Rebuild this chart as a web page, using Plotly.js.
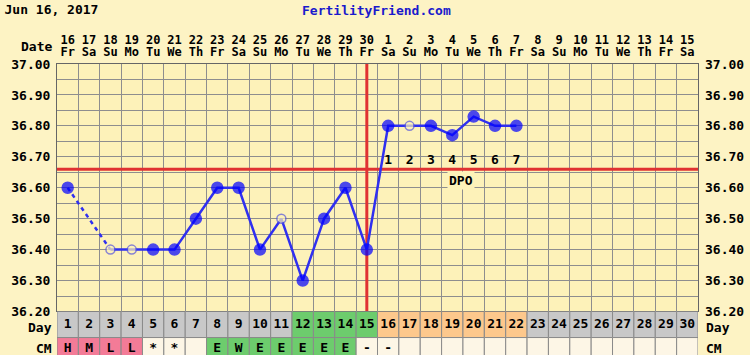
<!DOCTYPE html>
<html>
<head>
<meta charset="utf-8">
<script src="https://cdn.plot.ly/plotly-3.0.1.min.js"></script>
<style>html,body{margin:0;padding:0;background:#fdf3c4;}#chart{width:750px;height:355px;}</style>
</head>
<body>
<div id="chart"></div>
<script>
// ---- data ----
const days = [1,2,3,4,5,6,7,8,9,10,11,12,13,14,15,16,17,18,19,20,21,22,23,24,25,26,27,28,29,30];
const dateLabels = ['16','17','18','19','20','21','22','23','24','25','26','27','28','29','30','1','2','3','4','5','6','7','8','9','10','11','12','13','14','15'];
const weekdays = ['Fr','Sa','Su','Mo','Tu','We','Th','Fr','Sa','Su','Mo','Tu','We','Th','Fr','Sa','Su','Mo','Tu','We','Th','Fr','Sa','Su','Mo','Tu','We','Th','Fr','Sa'];
const temps = [36.60, null, 36.40, 36.40, 36.40, 36.40, 36.50, 36.60, 36.60, 36.40, 36.50, 36.30, 36.50, 36.60, 36.40, 36.80, 36.80, 36.80, 36.77, 36.83, 36.80, 36.80];
const openDays = [3, 4, 11, 17];
const coverline = 36.66;
const ovulationDay = 15;
const fertileDays = [12, 13, 14, 15];
const dpoDays = [16, 17, 18, 19, 20, 21, 22];
const dpoLabels = ['1','2','3','4','5','6','7'];
const cmCodes = ['H','M','L','L','*','*','','E','W','E','E','E','E','E','-','-'];
const yTicks = [36.20, 36.30, 36.40, 36.50, 36.60, 36.70, 36.80, 36.90, 37.00];

// ---- styles ----
const gridC = '#8e8e8e';
const plotBg = '#fdf2b9';
const paperBg = '#fdf3c4';
const red = '#e03232';
const blue = '#3030f0';
const cmColor = {H:'#f37b97', M:'#f37b97', L:'#f37b97', E:'#6dcc6d', W:'#6dcc6d'};
const cmDefault = '#fdf6e6';
const yMin = yTicks[0], yMax = yTicks[yTicks.length - 1];

const tDays = temps.map((_, i) => days[i]);

// dashed bridges over missing days
const bridges = [];
for (let i = 1; i < temps.length; i++) {
  if (temps[i] === null && temps[i-1] !== null) {
    let j = i;
    while (j < temps.length && temps[j] === null) j++;
    if (j < temps.length) bridges.push({x:[tDays[i-1], tDays[j]], y:[temps[i-1], temps[j]]});
  }
}

const isOpen = tDays.map(d => openDays.includes(d));
const markerColors = isOpen.map(o => o ? plotBg : '#0000ff');
const markerLineColors = isOpen.map(o => o ? '#5555dd' : '#0000ff');
const markerSizes = isOpen.map(o => o ? 9 : 11);

const dayColors = days.map(d => fertileDays.includes(d) ? '#6dcc6d' : (dpoDays.includes(d) ? '#fdc88c' : '#c8c8c8'));
const cmAll = days.map((d, i) => i < cmCodes.length ? cmCodes[i] : '');
const cmColors = cmAll.map(c => cmColor[c] || cmDefault);

const fnt = {family:'DejaVu Sans Mono, monospace', size:13, color:'#000', weight:'bold'};
const hdr = {family:'DejaVu Sans Mono, monospace', size:12, color:'#000', weight:'bold'};

const traces = [];
// coverline
traces.push({x:[0.5, 30.5], y:[coverline, coverline], mode:'lines', line:{color:red, width:3}, hoverinfo:'skip', xaxis:'x', yaxis:'y'});
// ovulation line
traces.push({x:[ovulationDay, ovulationDay], y:[yMin, yMax], mode:'lines', line:{color:red, width:3}, hoverinfo:'skip', xaxis:'x', yaxis:'y'});
// bridges
bridges.forEach(b => traces.push({x:b.x, y:b.y, mode:'lines', line:{color:blue, width:2.5, dash:'4px,4px'}, hoverinfo:'skip', xaxis:'x', yaxis:'y'}));
// temperatures
traces.push({x:tDays, y:temps, mode:'lines+markers', connectgaps:false,
  line:{color:blue, width:2.5},
  marker:{color:markerColors, size:markerSizes, line:{color:markerLineColors, width:1.5}},
  xaxis:'x', yaxis:'y'});
// DPO numbers
traces.push({x:dpoDays, y:dpoDays.map(() => coverline + 0.028), mode:'text', text:dpoLabels,
  textfont:fnt, cliponaxis:false, hoverinfo:'skip', xaxis:'x', yaxis:'y'});
// Day row
traces.push({type:'bar', x:days, y:days.map(() => 1), base:0, width:1, marker:{color:dayColors, line:{color:'#8a8a8a', width:1}}, hoverinfo:'skip', xaxis:'x', yaxis:'y2'});
// CM row
traces.push({type:'bar', x:days, y:days.map(() => 1), base:-1, width:1, marker:{color:cmColors, line:{color:'#8a8a8a', width:1}}, hoverinfo:'skip', xaxis:'x', yaxis:'y2'});
traces.push({x:days, y:days.map(() => 0.48), mode:'text', text:days.map(String), textfont:fnt, cliponaxis:false, hoverinfo:'skip', xaxis:'x', yaxis:'y2'});
traces.push({x:days, y:days.map(() => -0.42), mode:'text', text:cmAll, textfont:fnt, cliponaxis:false, hoverinfo:'skip', xaxis:'x', yaxis:'y2'});
// hidden trace for overlay axes
traces.push({x:[days[0]], y:[coverline], mode:'markers', marker:{opacity:0}, hoverinfo:'skip', xaxis:'x2', yaxis:'y3'});

const layout = {
  width:750, height:355,
  margin:{l:57, r:52, t:64, b:0, pad:0},
  paper_bgcolor:paperBg, plot_bgcolor:plotBg,
  font:fnt, showlegend:false, barmode:'overlay',
  title:{text:'Jun 16, 2017', x:0.006, xref:'container', xanchor:'left', y:0.972, yref:'container', yanchor:'middle', font:fnt},
  xaxis:{range:[0.5, 30.5], side:'top', anchor:'y', tickmode:'array', tickvals:days, ticktext:weekdays, ticks:'', showgrid:false,
    minor:{tick0:0.5, dtick:1, showgrid:true, gridcolor:gridC, gridwidth:1, ticks:''},
    showline:true, mirror:true, linecolor:'#666', zeroline:false, fixedrange:true, ticklabelstandoff:2, tickfont:hdr},
  xaxis2:{overlaying:'x', range:[0.5, 30.5], side:'top', anchor:'y', tickmode:'array', tickvals:days, ticktext:dateLabels, ticks:'', showgrid:false, zeroline:false, ticklabelstandoff:17, fixedrange:true, tickfont:hdr},
  yaxis:{domain:[0.1495, 1], range:[yMin, yMax], tickmode:'array', tickvals:yTicks, tickformat:'.2f', ticks:'', showgrid:true, gridcolor:gridC, gridwidth:1,
    minor:{dtick:0.05, tick0:yMin, showgrid:true, gridcolor:gridC, gridwidth:1, ticks:''},
    showline:true, mirror:true, linecolor:'#666', zeroline:false, fixedrange:true, ticklabelstandoff:3},
  yaxis3:{overlaying:'y', side:'right', anchor:'x', range:[yMin, yMax], tickmode:'array', tickvals:yTicks, tickformat:'.2f', ticks:'', showgrid:false, zeroline:false, showline:false, ticklabelstandoff:6, fixedrange:true},
  yaxis2:{domain:[0, 0.1495], range:[-0.67, 1], showgrid:false, zeroline:false, showticklabels:false, ticks:'', fixedrange:true},
  annotations:[
    {text:'FertilityFriend.com', xref:'paper', yref:'paper', x:0.4985, y:1, yanchor:'middle', yshift:54, showarrow:false, font:Object.assign({}, fnt, {color:'#1a1acc'})},
    {text:'Date', xref:'paper', yref:'paper', x:0, y:1, xanchor:'right', yanchor:'middle', xshift:-3, yshift:18, showarrow:false, font:fnt},
    {text:'Day', xref:'paper', yref:'y2', x:0, y:0.38, xanchor:'right', yanchor:'middle', xshift:-3, showarrow:false, font:fnt},
    {text:'CM', xref:'paper', yref:'y2', x:0, y:-0.42, xanchor:'right', yanchor:'middle', xshift:-3, showarrow:false, font:fnt},
    {text:'Day', xref:'paper', yref:'y2', x:1, y:0.38, xanchor:'left', yanchor:'middle', xshift:6, showarrow:false, font:fnt},
    {text:'CM', xref:'paper', yref:'y2', x:1, y:-0.42, xanchor:'left', yanchor:'middle', xshift:6, showarrow:false, font:fnt},
    {text:'DPO', xref:'x', yref:'y', x:19.4, y:coverline - 0.037, xanchor:'center', yanchor:'middle', showarrow:false, bgcolor:plotBg, borderpad:1, font:fnt}
  ]
};

Plotly.newPlot('chart', traces, layout, {staticPlot:true, displayModeBar:false});
</script>
</body>
</html>
